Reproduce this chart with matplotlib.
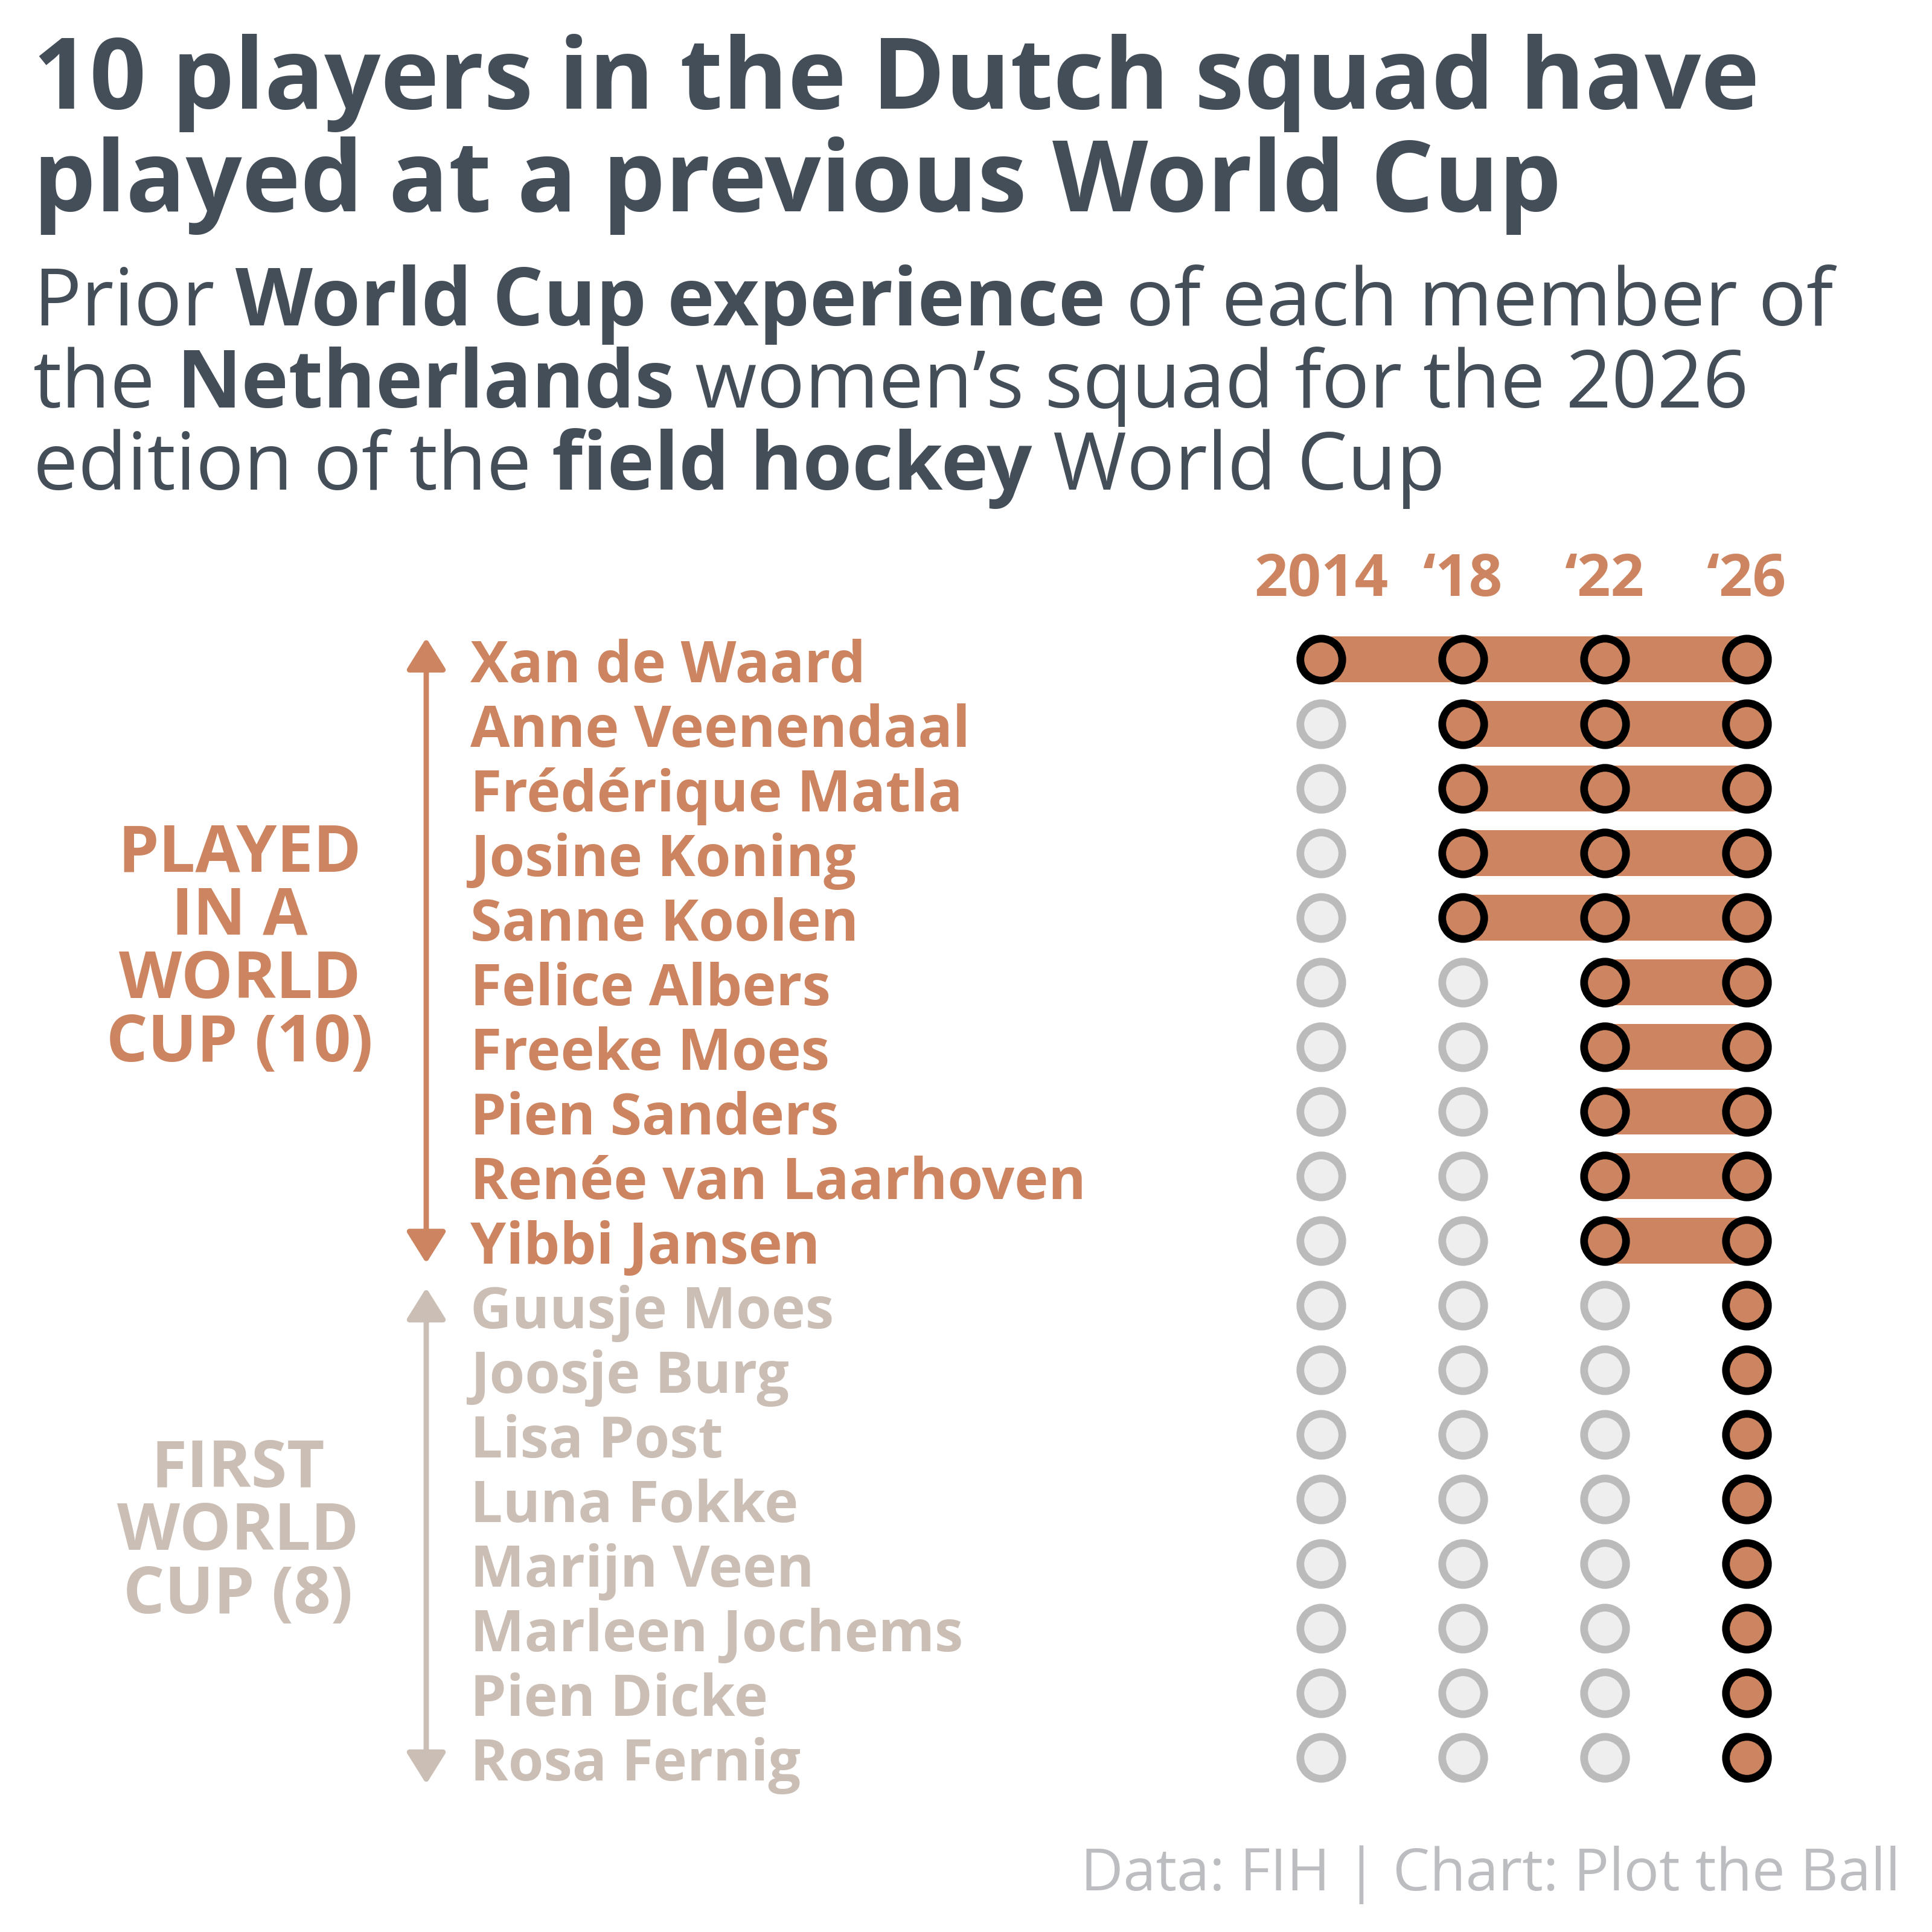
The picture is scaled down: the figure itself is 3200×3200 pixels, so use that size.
import matplotlib
matplotlib.use('Agg')
import matplotlib.pyplot as plt
from matplotlib.transforms import blended_transform_factory

# ---------------- data ----------------
players = [
    'Xan de Waard', 'Anne Veenendaal', 'Frédérique Matla', 'Josine Koning',
    'Sanne Koolen', 'Felice Albers', 'Freeke Moes', 'Pien Sanders',
    'Renée van Laarhoven', 'Yibbi Jansen', 'Guusje Moes', 'Joosje Burg',
    'Lisa Post', 'Luna Fokke', 'Marijn Veen', 'Marleen Jochems',
    'Pien Dicke', 'Rosa Fernig',
]
first_world_cup = [
    2014, 2018, 2018, 2018, 2018, 2022, 2022, 2022, 2022, 2022,
    2026, 2026, 2026, 2026, 2026, 2026, 2026, 2026,
]
years = [2014, 2018, 2022, 2026]
year_labels = ['2014', '\u201818', '\u201822', '\u201826']
group_played_lines = ['PLAYED', 'IN A', 'WORLD', 'CUP (10)']
group_first_lines = ['FIRST', 'WORLD', 'CUP (8)']

title_lines = ['10 players in the Dutch squad have',
               'played at a previous World Cup']
subtitle_runs = [
    [('Prior', False), ('World Cup experience', True), ('of each member of', False)],
    [('the', False), ('Netherlands', True), ('women\u2019s squad for the 2026', False)],
    [('edition of the', False), ('field hockey', True), ('World Cup', False)],
]
footer = 'Data: FIH | Chart: Plot the Ball'

# ---------------- style ----------------
W = H = 3200
DPI = 200
FONT = ['Open Sans', 'DejaVu Sans']
ORANGE = '#CC8560'
LIGHT = '#CBBEB5'
DARK = '#444E59'
GREY_EDGE = '#BBBBBB'
GREY_FILL = '#EEEEEE'
FOOT = '#BBBDC0'

plt.rcParams['font.family'] = FONT

fig = plt.figure(figsize=(W / DPI, H / DPI), dpi=DPI)
fig.patch.set_facecolor('white')


def px(x):
    return x / W


def py(y):
    return 1 - y / H


col_x0, col_dx = 2188, 235
row_y0, row_dy = 1092, 107
n = len(players)
left = col_x0 - col_dx / 2
top = row_y0 - row_dy / 2
ax = fig.add_axes([px(left), py(top + n * row_dy), 4 * col_dx / W, n * row_dy / H])
ax.set_xlim(-0.5, len(years) - 0.5)
ax.set_ylim(n - 0.5, -0.5)
ax.axis('off')

last = len(years) - 1
for i, (name, fy) in enumerate(zip(players, first_world_cup)):
    k = years.index(fy)
    if k < last:
        ax.barh(i, last - k, left=k, height=0.71, color=ORANGE, zorder=1)
    for j, yr in enumerate(years):
        if yr >= fy:
            ax.plot(j, i, 'o', ms=25, mfc=ORANGE, mec='black', mew=4.6,
                    zorder=3, clip_on=False)
        else:
            ax.plot(j, i, 'o', ms=25, mfc=GREY_FILL, mec=GREY_EDGE, mew=4.6,
                    zorder=2, clip_on=False)

trans = blended_transform_factory(fig.transFigure, ax.transData)

# player names
for i, (name, fy) in enumerate(zip(players, first_world_cup)):
    col = ORANGE if fy < years[-1] else LIGHT
    ax.text(px(779), i + 0.355, name, transform=trans, ha='left', va='baseline',
            fontsize=34.2, fontweight='bold', color=col)

# year labels
for j, lab in enumerate(year_labels):
    ax.text(j, -0.98, lab, ha='center', va='baseline', fontsize=35,
            fontweight='bold', color=ORANGE)

# arrows
arrow_style = '<|-|>,head_length=0.8,head_width=0.5'
ax.annotate('', xy=(px(706), -0.33), xytext=(px(706), 9.35), xycoords=trans,
            textcoords=trans,
            arrowprops=dict(arrowstyle=arrow_style, color=ORANGE, lw=3.2,
                            mutation_scale=20, shrinkA=0, shrinkB=0))
ax.annotate('', xy=(px(706), 9.73), xytext=(px(706), 17.41), xycoords=trans,
            textcoords=trans,
            arrowprops=dict(arrowstyle=arrow_style, color=LIGHT, lw=3.2,
                            mutation_scale=20, shrinkA=0, shrinkB=0))

# group labels
for k, line in enumerate(group_played_lines):
    fig.text(px(397), py(1443 + 105 * k), line, ha='center', va='baseline',
             fontsize=38.8, fontweight='bold', color=ORANGE)
for k, line in enumerate(group_first_lines):
    fig.text(px(394), py(2463 + 104.5 * k), line, ha='center', va='baseline',
             fontsize=38.8, fontweight='bold', color=LIGHT)

# title
for k, line in enumerate(title_lines):
    fig.text(px(55), py(180 + 170 * k), line, ha='left', va='baseline',
             fontsize=59, fontweight='bold', color=DARK)

# subtitle with mixed weights
renderer = fig.canvas.get_renderer()
sub_size = 47.6


def text_width(s, weight):
    t = fig.text(0, 0, s, fontsize=sub_size, fontweight=weight)
    w = t.get_window_extent(renderer).width
    t.remove()
    return w


space_w = {wt: text_width('a a', wt) - text_width('aa', wt) for wt in ('normal', 'bold')}

for k, runs in enumerate(subtitle_runs):
    x = 55.0
    for r, (s, bold) in enumerate(runs):
        wt = 'bold' if bold else 'normal'
        if r > 0:
            x += space_w[wt]
        t = fig.text(px(x), py(539 + 136 * k), s, ha='left', va='baseline',
                     fontsize=sub_size, fontweight=wt, color=DARK)
        x += t.get_window_extent(renderer).width

# footer
fig.text(px(3148), py(3131), footer, ha='right', va='baseline', fontsize=35,
         fontweight='normal', color=FOOT)

fig.savefig('out.png', dpi=DPI, facecolor='white')
